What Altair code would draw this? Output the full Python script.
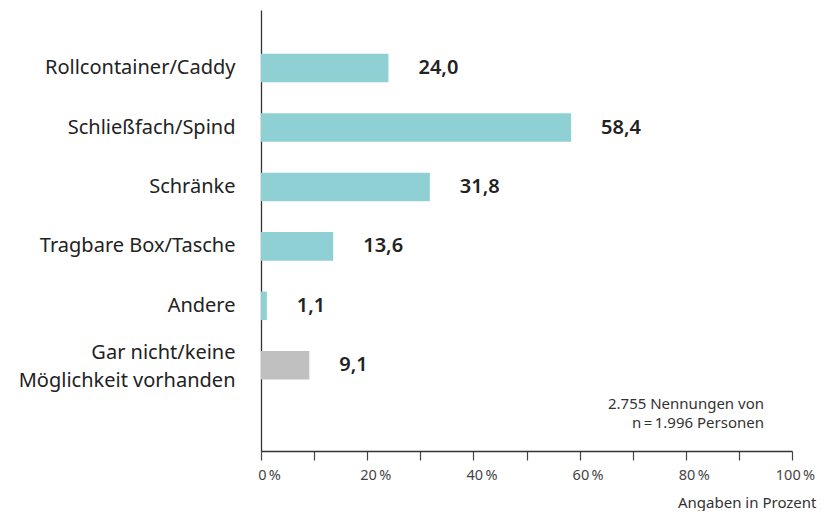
import altair as alt
import pandas as pd

categories = [
    "Rollcontainer/Caddy",
    "Schließfach/Spind",
    "Schränke",
    "Tragbare Box/Tasche",
    "Andere",
    "Gar nicht/keine\nMöglichkeit vorhanden",
]
values = [24.0, 58.4, 31.8, 13.6, 1.1, 9.1]
groups = ["ja", "ja", "ja", "ja", "ja", "nein"]
note_lines = ["2.755 Nennungen von", "n\u2009=\u20091.996 Personen"]

df = pd.DataFrame({
    "cat": categories,
    "val": values,
    "grp": groups,
    "lbl": [f"{v:.1f}".replace(".", ",") for v in values],
})

FONT = "Noto Sans"

y_enc = alt.Y(
    "cat:N",
    sort=categories,
    scale=alt.Scale(paddingInner=0.52, paddingOuter=0.97, align=0.38),
    axis=alt.Axis(
        title=None,
        ticks=False,
        labelExpr="split(datum.label, '\\n')",
        labelFont=FONT,
        labelFontSize=20,
        labelColor="#222222",
        labelPadding=26,
        labelLineHeight=28,
        labelOffset={"condition": {"test": "indexof(datum.value, '\\n') >= 0", "value": -12}, "value": 0},
        domainColor="#333333",
        domainWidth=1.3,
        labelLimit=400,
    ),
)

x_enc = alt.X(
    "val:Q",
    scale=alt.Scale(domain=[0, 100], nice=False),
    axis=alt.Axis(
        values=list(range(0, 101, 10)),
        labelExpr="datum.value % 20 == 0 ? datum.value + '\u2009%' : ''",
        title="Angaben in Prozent",
        titleFont=FONT,
        titleFontSize=15,
        titleFontWeight="normal",
        titleColor="#333333",
        titleAlign="right",
        titleAnchor="end",
        titleX=555,
        titleBaseline="alphabetic",
        titleY=56,
        labelFont=FONT,
        labelFontSize=14.5,
        labelColor="#444444",
        labelPadding=8,
        labelOffset={"condition": {"test": "datum.value == 100", "value": 3}, "value": 8},
        tickSize=9,
        tickColor="#444444",
        tickWidth=1.2,
        domainColor="#333333",
        domainWidth=1.3,
        grid=False,
        labelOverlap=False,
        labelFlush=False,
    ),
)

bars = alt.Chart(df).mark_bar().encode(
    x=x_enc,
    y=y_enc,
    color=alt.Color(
        "grp:N",
        scale=alt.Scale(domain=["ja", "nein"], range=["#8ed0d4", "#c0c0c0"]),
        legend=None,
    ),
)

labels = alt.Chart(df).mark_text(
    align="left", baseline="middle", dx=30, font=FONT, fontSize=20,
    fontWeight=600, color="#222222",
).encode(x="val:Q", y=alt.Y("cat:N", sort=categories), text="lbl:N")

note = alt.Chart(pd.DataFrame({"t": [note_lines]})).mark_text(
    align="right", baseline="middle", font=FONT, fontSize=15, color="#333333",
    lineHeight=19,
).encode(x=alt.value(503), y=alt.value(394), text="t")

chart = (bars + labels + note).properties(
    width=531,
    height=441,
    padding={"left": 253, "top": 2, "right": 26, "bottom": 60},
    autosize=alt.AutoSizeParams(type="none"),
).configure_view(stroke=None)

chart.save("out.html", embed_options={"renderer": "svg", "actions": False})
